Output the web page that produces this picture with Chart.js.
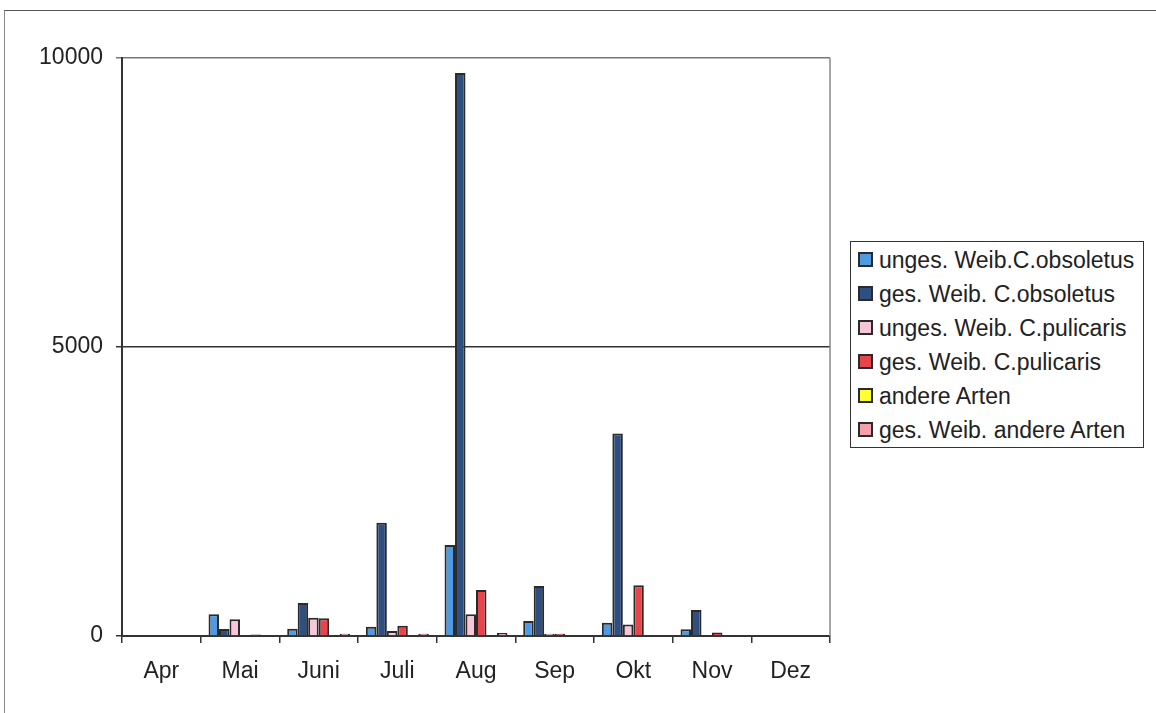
<!DOCTYPE html>
<html lang="de">
<head>
    <meta charset="UTF-8">
    <title>Gnitzen Fänge</title>
    <style>
        body { margin: 0; background: #fff; font-family: "Liberation Sans", Arial, sans-serif; }
        #frame { position: absolute; left: 4px; top: 10px; width: 1200px; height: 760px; border-top: 1px solid #555; border-left: 1px solid #888; }
        #chartBox { position: absolute; left: 0; top: 0; width: 1156px; height: 713px; }
        #legend { position: absolute; left: 850px; top: 241px; width: 292px; height: 205px; border: 1px solid #333; background: #fff; }
        .row { position: absolute; left: 7px; height: 34px; line-height: 34px; font-size: 23px; color: #222; white-space: nowrap; }
        .swatch { display: inline-block; width: 11px; height: 11px; border: 2px solid #2a2a2a; margin-right: 6px; vertical-align: 1px; }
    </style>
</head>
<body onload="loader()">

<div id="frame"></div>
<div id="chartBox">
    <canvas id="fangChart" width="1156" height="713"></canvas>
</div>
<div id="legend"></div>

<script src="https://cdn.jsdelivr.net/npm/chart.js@4/dist/chart.umd.min.js"></script>
<script>
    // Monate
    const months = ['Apr', 'Mai', 'Juni', 'Juli', 'Aug', 'Sep', 'Okt', 'Nov', 'Dez'];

    // Anzahl pro Monat
    const ungesObsoletus = [0, 375, 125, 160, 1575, 260, 230, 115, 0];
    const gesObsoletus = [0, 120, 570, 1960, 9740, 865, 3505, 450, 0];
    const ungesPulicaris = [0, 290, 317, 85, 375, 40, 200, 0, 0];
    const gesPulicaris = [0, 0, 306, 178, 796, 40, 880, 60, 0];
    const andereArten = [0, 25, 0, 0, 0, 0, 0, 0, 0];
    const gesAndereArten = [0, 0, 40, 40, 50, 0, 0, 0, 0];

    const yTicks = [0, 5000, 10000];

    const seriesNames = [
        'unges. Weib.C.obsoletus',
        'ges. Weib. C.obsoletus',
        'unges. Weib. C.pulicaris',
        'ges. Weib. C.pulicaris',
        'andere Arten',
        'ges. Weib. andere Arten'
    ];
    const seriesData = [ungesObsoletus, gesObsoletus, ungesPulicaris, gesPulicaris, andereArten, gesAndereArten];
    const seriesColors = ['#4f9ae0', '#2f4f80', '#f8c6d8', '#e8444c', '#ffff33', '#f5a0aa'];

    function buildLegend() {
        let box = document.getElementById('legend');
        for (let i = 0; i < seriesNames.length; i++) {
            let row = document.createElement('div');
            row.className = 'row';
            row.style.top = (1 + i * 34) + 'px';
            row.innerHTML = '<span class="swatch" style="background:' + seriesColors[i] + '"></span>' + seriesNames[i];
            box.appendChild(row);
        }
    }

    // grauer Rahmen rechts an der Zeichnungsfläche
    const plotBorder = {
        id: 'plotBorder',
        afterDraw(chart) {
            const a = chart.chartArea;
            const ctx = chart.ctx;
            ctx.save();
            ctx.strokeStyle = '#888';
            ctx.lineWidth = 1.5;
            ctx.beginPath();
            ctx.moveTo(a.right, a.top);
            ctx.lineTo(a.right, a.bottom);
            ctx.stroke();
            ctx.restore();
        }
    };

    function loadChart() {
        let datasets = [];
        for (let i = 0; i < seriesNames.length; i++) {
            datasets.push({
                label: seriesNames[i],
                data: seriesData[i],
                backgroundColor: seriesColors[i],
                borderColor: '#2a2a2a',
                borderWidth: 2,
                categoryPercentage: 0.8,
                barPercentage: 1.0
            });
        }

        const ctx = document.getElementById('fangChart').getContext('2d');
        const fangChart = new Chart(ctx, {
            type: 'bar',
            data: {
                labels: months,
                datasets: datasets
            },
            plugins: [plotBorder],
            options: {
                responsive: false,
                animation: false,
                devicePixelRatio: 1,
                layout: {
                    padding: { left: 0, top: 58, right: 326, bottom: 0 }
                },
                plugins: {
                    legend: { display: false },
                    tooltip: { enabled: false }
                },
                scales: {
                    x: {
                        grid: {
                            offset: true,
                            drawOnChartArea: false,
                            drawTicks: true,
                            tickLength: 7,
                            color: '#333',
                            lineWidth: 1.5
                        },
                        border: { color: '#333', width: 2 },
                        ticks: {
                            color: '#222',
                            padding: 15,
                            font: { family: 'Liberation Sans', size: 23 }
                        },
                        afterFit: function (scale) { scale.height = 77; }
                    },
                    y: {
                        min: 0,
                        max: 10000,
                        afterBuildTicks: function (scale) {
                            scale.ticks = yTicks.map(function (v) { return { value: v }; });
                        },
                        grid: {
                            drawTicks: true,
                            tickLength: 6,
                            lineWidth: 1.5,
                            color: function (c) {
                                if (c.tick && c.tick.value === 10000) return '#777';
                                return '#333';
                            }
                        },
                        border: { color: '#333', width: 2 },
                        ticks: {
                            color: '#222',
                            padding: 13,
                            font: { family: 'Liberation Sans', size: 23 },
                            callback: function (v) { return v; }
                        },
                        afterFit: function (scale) { scale.width = 122; }
                    }
                }
            }
        });
        return fangChart;
    }

    function loader() {
        buildLegend();
        loadChart();
    }
</script>
</body>
</html>
